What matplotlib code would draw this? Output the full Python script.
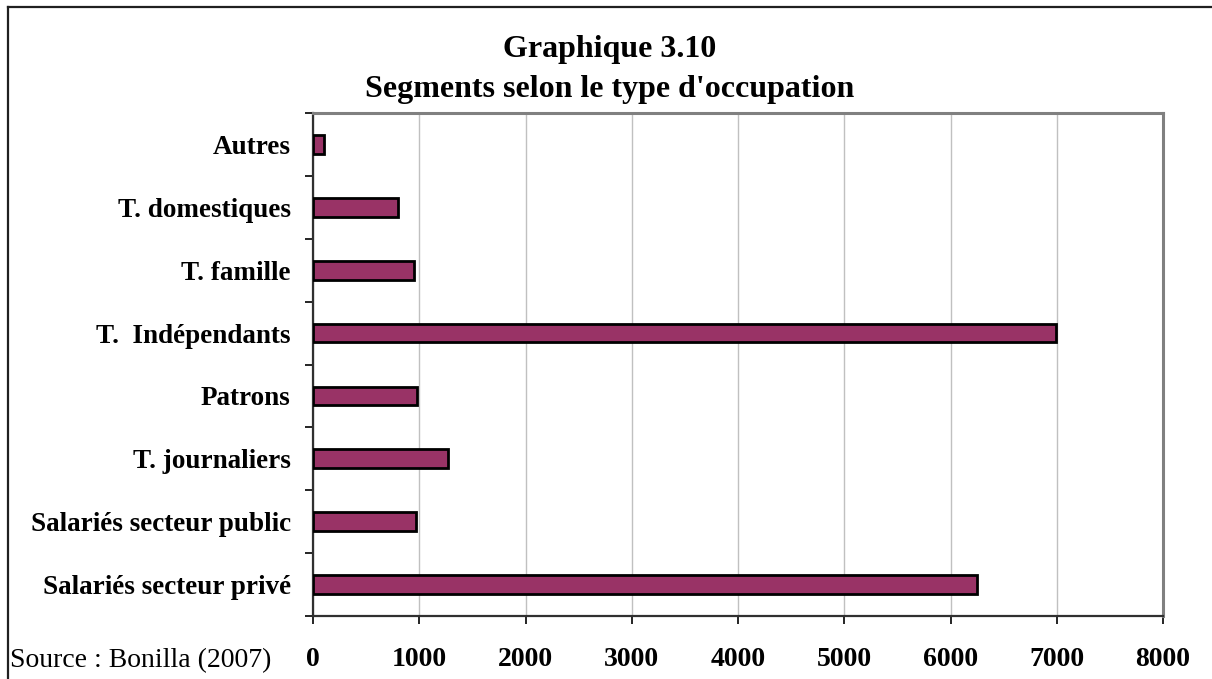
import numpy as np
import matplotlib
matplotlib.use('Agg')
from matplotlib import pyplot as plt
from matplotlib.lines import Line2D

#------------------------------------------------------------
# data, bottom to top
categories = ['Salariés secteur privé', 'Salariés secteur public',
              'T. journaliers', 'Patrons', 'T.  Indépendants',
              'T. famille', 'T. domestiques', 'Autres']
values = [6250, 970, 1270, 980, 6990, 950, 800, 100]
xticks = [0, 1000, 2000, 3000, 4000, 5000, 6000, 7000, 8000]

title_lines = ['Graphique 3.10', "Segments selon le type d'occupation"]
source = 'Source : Bonilla (2007)'

plt.rcParams['font.family'] = ['Liberation Serif', 'DejaVu Serif']

W, H = 1212, 679
fig = plt.figure(figsize=(W / 100, H / 100), dpi=100)
ax = fig.add_axes([313 / W, 1 - 616 / H, (1163 - 313) / W, (616 - 113) / H])

y = np.arange(len(categories))
ax.barh(y, values, height=0.3, color='#993366', edgecolor='black',
        linewidth=2, zorder=3)

ax.set_xlim(0, 8000)
ax.set_ylim(-0.5, len(categories) - 0.5)

# x axis
ax.set_xticks(xticks)
ax.set_xticklabels([str(v) for v in xticks], fontsize=20, fontweight='bold')
ax.tick_params(axis='x', direction='out', length=6, width=1.2,
               color='black', pad=16)
ax.grid(axis='x', color='#c0c0c0', linewidth=1, zorder=0)

# y axis: labels at centres, tick marks at boundaries
ax.set_yticks(y)
ax.set_yticklabels(categories, fontsize=19.5, fontweight='bold')
ax.tick_params(axis='y', which='major', length=0, pad=16)
ax.set_yticks(np.arange(-0.5, len(categories)), minor=True)
ax.tick_params(axis='y', which='minor', direction='out', length=6,
               width=1.2, color='black')

for side in ['top', 'right']:
    ax.spines[side].set_color('#808080')
    ax.spines[side].set_linewidth(2.2)
for side in ['left', 'bottom']:
    ax.spines[side].set_color('#303030')
    ax.spines[side].set_linewidth(1.6)

# titles and source
fig.text(610 / W, 1 - 57 / H, title_lines[0], ha='center', va='baseline',
         fontsize=23, fontweight='bold')
fig.text(610 / W, 1 - 97 / H, title_lines[1], ha='center', va='baseline',
         fontsize=23, fontweight='bold')
fig.text(10 / W, 1 - 667 / H, source, ha='left', va='baseline',
         fontsize=20)

# outer frame (cut off at right and bottom)
fig.add_artist(Line2D([8 / W, 8 / W], [0, 1 - 7 / H], color='#202020',
                      linewidth=1.6, transform=fig.transFigure))
fig.add_artist(Line2D([8 / W, 1], [1 - 7 / H, 1 - 7 / H], color='#202020',
                      linewidth=1.6, transform=fig.transFigure))

fig.savefig('out.png', dpi=100)
